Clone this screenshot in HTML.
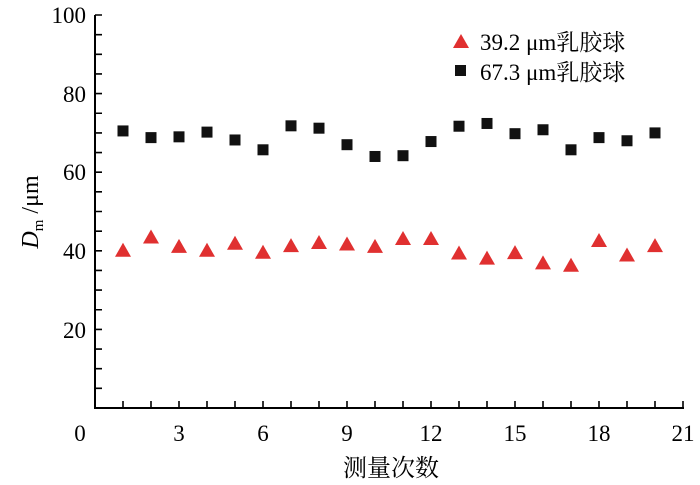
<!DOCTYPE html>
<html><head><meta charset="utf-8"><style>body{margin:0;background:#fff}svg{display:block}</style></head><body>
<svg width="700" height="485" xmlns="http://www.w3.org/2000/svg" font-family="Liberation Serif, Noto Serif CJK SC, serif">
<g stroke="#000" stroke-width="2" fill="none">
<path d="M95,15 V408 H684"/>
</g>
<g id="ticks" stroke="#000" stroke-width="1.6"></g>
<g font-size="23" fill="#000" text-anchor="end">
<text x="86" y="23">100</text><text x="86" y="102">80</text><text x="86" y="180">60</text><text x="86" y="259">40</text><text x="86" y="338">20</text>
</g>
<g font-size="23" fill="#000" text-anchor="middle">
<text x="80" y="441">0</text><text x="179" y="441">3</text><text x="263" y="441">6</text><text x="347" y="441">9</text><text x="431" y="441">12</text><text x="515" y="441">15</text><text x="599" y="441">18</text><text x="683" y="441">21</text>
</g>
<text x="391" y="476" font-size="24" text-anchor="middle" font-family="Noto Serif CJK SC, serif">测量次数</text>
<text transform="translate(38,212) rotate(-90)" font-size="24" text-anchor="middle"><tspan font-style="italic">D</tspan><tspan font-size="15" dy="5">m</tspan><tspan dy="-5"> /μm</tspan></text>
<polygon points="461,34 469,48 453,48" fill="#e03030"/>
<rect x="455" y="65" width="11" height="11" fill="#111"/>
<text x="480" y="50" font-size="23">39.2 μm<tspan font-family="Noto Serif CJK SC, serif">乳胶球</tspan></text>
<text x="480" y="80" font-size="23">67.3 μm<tspan font-family="Noto Serif CJK SC, serif">乳胶球</tspan></text>
<g id="data"></g>
</svg>
<script>
var ns="http://www.w3.org/2000/svg";
var tk=document.getElementById("ticks"),s="";
for(var i=1;i<=21;i++){var x=95+i*28;s+="M"+x+",408V401";}
for(var v=5;v<=100;v+=5){var y=408-v*3.93;s+="M95,"+y+"H102";}
var p=document.createElementNS(ns,"path");p.setAttribute("d",s);tk.appendChild(p);
var sq=[70.5,68.8,69,70.2,68.2,65.7,71.8,71.2,67,64,64.2,67.8,71.7,72.4,69.8,70.8,65.7,68.8,68,70];
var tr=[40,43.4,41,40,41.8,39.5,41.2,42,41.6,41,43,43,39.3,38,39.4,36.8,36.2,42.5,38.8,41.2];
var d=document.getElementById("data"),h="";
for(var i=0;i<20;i++){var x=95+(i+1)*28;var y=408-sq[i]*3.93;
h+='<rect x="'+(x-5.5)+'" y="'+(y-5.5)+'" width="11" height="11" fill="#111"/>';
y=408-tr[i]*3.93;h+='<polygon points="'+x+','+(y-8)+' '+(x+8)+','+(y+6)+' '+(x-8)+','+(y+6)+'" fill="#e03030"/>';}
d.innerHTML=h;
</script>
</body></html>
